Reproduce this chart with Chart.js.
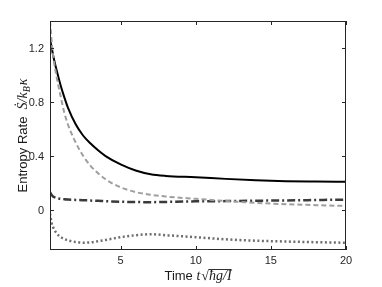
<!DOCTYPE html>
<html>
<head>
<meta charset="utf-8">
<script src="https://cdn.jsdelivr.net/npm/chart.js@4"></script>
<style>
  html, body { margin: 0; padding: 0; background: #fff; }
  #wrap { width: 382px; height: 287px; }
</style>
</head>
<body>
<div id="wrap"><canvas id="entropy"></canvas></div>
<script>
// sample times and the four entropy-rate curves
const times   = [0.3, 0.4, 0.5, 0.75, 1, 1.25, 1.5, 2, 2.5, 3, 3.5, 4, 5, 6, 7, 8, 10, 12, 14, 16, 18, 20];
const solid   = [1.26, 1.21, 1.15, 1.03, 0.925, 0.835, 0.755, 0.635, 0.55, 0.49, 0.44, 0.397, 0.335, 0.29, 0.262, 0.25, 0.24, 0.228, 0.218, 0.211, 0.208, 0.206];
const dashed  = [1.40, 1.26, 1.15, 0.98, 0.845, 0.72, 0.63, 0.50, 0.40, 0.325, 0.27, 0.225, 0.165, 0.13, 0.11, 0.097, 0.08, 0.064, 0.05, 0.04, 0.033, 0.027];
const dashDot = [0.13, 0.11, 0.098, 0.085, 0.08, 0.077, 0.075, 0.072, 0.07, 0.067, 0.065, 0.062, 0.058, 0.056, 0.055, 0.057, 0.061, 0.063, 0.066, 0.068, 0.071, 0.074];
const dotted  = [-0.03, -0.095, -0.13, -0.177, -0.203, -0.218, -0.228, -0.24, -0.246, -0.243, -0.235, -0.225, -0.205, -0.19, -0.183, -0.19, -0.205, -0.221, -0.231, -0.237, -0.242, -0.246];

const xTicks = [5, 10, 15, 20];
const yTicks = [0, 0.4, 0.8, 1.2];
const yTickLabels = ['0', '0.4', '0.8', '1.2'];

const sans = "'Liberation Sans', Arial, Helvetica, sans-serif";
const serif = "'Liberation Serif', 'DejaVu Serif', 'Times New Roman', serif";

function pts(ys) {
  return times.map((t, i) => ({ x: t, y: ys[i] }));
}

// draws a list of text runs in a row, centred on 0
function drawRuns(c, runs) {
  let total = 0;
  runs.forEach(r => { c.font = r.font; r.w = c.measureText(r.text).width + (r.gap || 0); total += r.w; });
  let x = -total / 2;
  runs.forEach(r => {
    c.font = r.font;
    c.fillText(r.text, x, r.dy || 0);
    if (r.bar) {
      c.fillRect(x, r.bar, r.w, 0.9);
    }
    x += r.w;
  });
}

// box around the axes with inward ticks on all four sides (matlab style)
const frame = {
  id: 'frame',
  afterDatasetsDraw(chart) {
    const c = chart.ctx, a = chart.chartArea;
    const sx = chart.scales.x, sy = chart.scales.y;
    c.save();
    c.strokeStyle = '#262626';
    c.lineWidth = 1;
    c.strokeRect(a.left + 0.5, a.top + 0.5, a.right - a.left - 1, a.bottom - a.top - 1);
    c.beginPath();
    xTicks.forEach(v => {
      const px = Math.round(sx.getPixelForValue(v)) + 0.5;
      c.moveTo(px, a.bottom); c.lineTo(px, a.bottom - 4);
      c.moveTo(px, a.top); c.lineTo(px, a.top + 4);
    });
    yTicks.forEach(v => {
      const py = Math.round(sy.getPixelForValue(v)) + 0.5;
      c.moveTo(a.left, py); c.lineTo(a.left + 4, py);
      c.moveTo(a.right, py); c.lineTo(a.right - 4, py);
    });
    c.stroke();

    // tick labels
    c.fillStyle = '#262626';
    c.font = '11px ' + sans;
    c.textAlign = 'center';
    c.textBaseline = 'middle';
    xTicks.forEach(v => c.fillText(String(v), sx.getPixelForValue(v), 261));
    c.textAlign = 'right';
    yTicks.forEach((v, i) => c.fillText(yTickLabels[i], a.left - 6, sy.getPixelForValue(v) + 1));

    // axis titles
    c.fillStyle = '#1a1a1a';
    c.textBaseline = 'alphabetic';
    c.textAlign = 'left';
    c.save();
    c.translate((a.left + a.right) / 2, 280);
    drawRuns(c, [
      { text: 'Time ', font: '13px ' + sans },
      { text: 't', font: 'italic 14px ' + serif, gap: 1 },
      { text: '\u221A', font: '14px ' + serif },
      { text: '\u0127g/I', font: 'italic 14px ' + serif, bar: -11 }
    ]);
    c.restore();
    c.save();
    c.translate(27, (a.top + a.bottom) / 2);
    c.rotate(-Math.PI / 2);
    drawRuns(c, [
      { text: 'Entropy Rate  ', font: '13px ' + sans },
      { text: '\u1E60/k', font: 'italic 14px ' + serif },
      { text: 'B', font: 'italic 10px ' + serif, dy: 3, gap: 1 },
      { text: '\u03BA', font: 'italic 14px ' + serif }
    ]);
    c.restore();
    c.restore();
  }
};

const line = (data, color, width, dash) => ({
  data: pts(data),
  borderColor: color,
  borderWidth: width,
  borderDash: dash,
  pointRadius: 0,
  fill: false,
  cubicInterpolationMode: 'monotone'
});

const ctx = document.getElementById('entropy').getContext('2d');
const chart = new Chart(ctx, {
  type: 'line',
  plugins: [frame],
  data: {
    datasets: [
      line(dashed, '#9e9e9e', 2, [5, 3]),
      line(dotted, '#6e6e6e', 2.5, [2, 2.5]),
      line(dashDot, '#3a3a3a', 2.5, [8, 3, 2, 3]),
      line(solid, '#000000', 2, [])
    ]
  },
  options: {
    animation: false,
    responsive: true,
    maintainAspectRatio: false,
    layout: { padding: { left: 0, right: 36, top: 21, bottom: 0 } },
    plugins: {
      legend: { display: false },
      tooltip: { enabled: false }
    },
    scales: {
      x: {
        type: 'linear',
        min: 0.3,
        max: 20,
        grid: { display: false, drawTicks: false },
        border: { display: false },
        ticks: { display: false },
        afterFit: s => { s.height = 37; }
      },
      y: {
        type: 'linear',
        min: -0.3,
        max: 1.4,
        grid: { display: false, drawTicks: false },
        border: { display: false },
        ticks: { display: false },
        afterFit: s => { s.width = 50; }
      }
    }
  }
});
</script>
</body>
</html>
